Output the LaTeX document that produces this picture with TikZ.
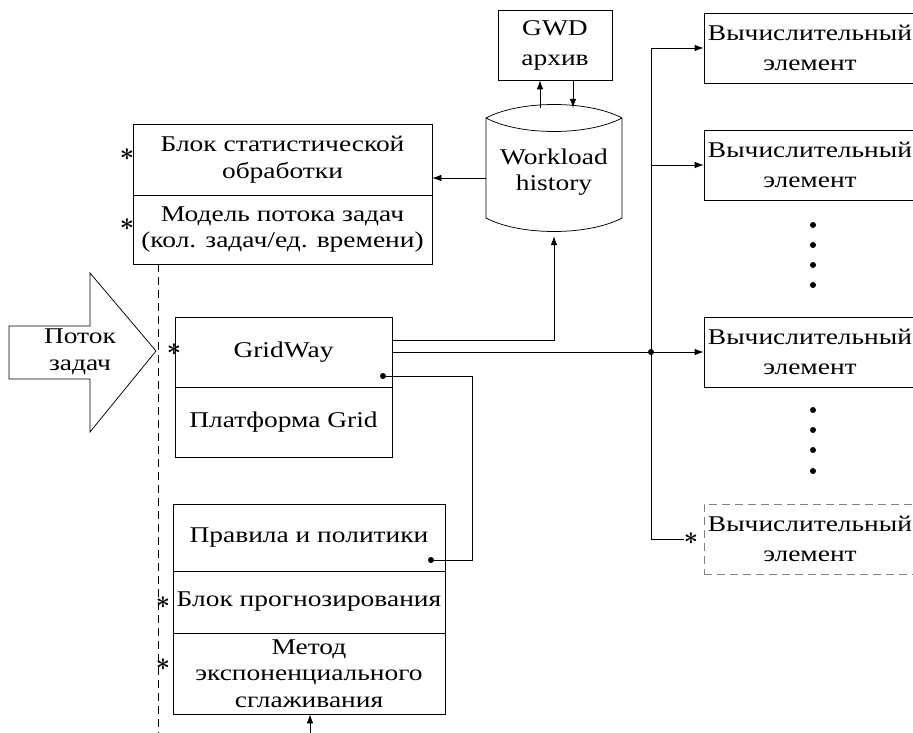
\documentclass[tikz,border=0pt]{standalone}
\usepackage{fontspec}
\setmainfont{Liberation Serif}[FakeStretch=1.22]
\usetikzlibrary{arrows.meta}
\begin{document}
\begin{tikzpicture}
[x=1pt, y=-1pt,
 lineDecorate/.style={-{Latex[length=9pt,width=6.5pt]},line width=0.75pt},
 boxDecorate/.style={shape=rectangle,draw,line width=0.75pt,inner sep=0pt,align=center,font=\fontsize{22.5}{26.5}\selectfont},
 wideDecorate/.style={boxDecorate,font=\fontsize{22.5}{30}\selectfont},
 starDecorate/.style={inner sep=0pt,font=\fontsize{32}{32}\selectfont\boldmath},
 dotDecorate/.style={shape=circle,fill=black,inner sep=0pt,minimum size=6pt},
 dashDecorate/.style={line width=0.75pt,dash pattern=on 8pt off 5pt}]

\useasboundingbox (0,0) rectangle (913,733);
\clip (0,0) rectangle (913,733);

 % left column
 \node (S1) at (282.5,159.5) [boxDecorate, minimum width=299pt, minimum height=71pt] {Блок статистической\\обработки};
 \node (S2) at (282.5,229.5) [boxDecorate, minimum width=299pt, minimum height=69pt] {Модель потока задач\\(кол. задач/ед. времени)};
 \node (GW) at (283.5,352) [boxDecorate, minimum width=217pt, minimum height=70pt] {GridWay};
 \node (P) at (283.5,422) [boxDecorate, minimum width=217pt, minimum height=70pt] {Платформа Grid};
 \node (R1) at (309,537.5) [boxDecorate, minimum width=272pt, minimum height=67pt] {Правила и политики};
 \node (R2) at (309,602) [boxDecorate, minimum width=272pt, minimum height=62pt] {Блок прогнозирования};
 \node (R3) at (309,673.5) [boxDecorate, minimum width=272pt, minimum height=81pt] {Метод\\экспоненциального\\сглаживания};

 % archive and history
 \node (G) at (555,45) [wideDecorate, minimum width=114pt, minimum height=70pt] {GWD\\архив};
 \draw[line width=0.75pt] (486,118) .. controls (520,100) and (588,100) .. (622,118)
   -- (622,218) .. controls (588,236) and (520,236) .. (486,218) -- cycle;
 \draw[line width=0.75pt] (486,118) .. controls (520,136) and (588,136) .. (622,118);
 \node (H) at (554,172) [minimum width=136pt, minimum height=128pt, inner sep=0pt, align=center, font=\fontsize{22.5}{26.5}\selectfont] {Workload\\history};

 % computing elements
 \foreach \i/\y in {1/48,2/165,3/352}
 {
          \node (V\i) at (810,\y) [wideDecorate, minimum width=212pt, minimum height=70pt] {Вычислительный\\элемент};
 }
 \node (V4) at (810,539) [wideDecorate, draw=gray, dashDecorate, minimum width=212pt, minimum height=70pt] {Вычислительный\\элемент};
 \foreach \y in {225,245,265,285,410,430,450,471}
 {
          \fill (813,\y) circle (3pt);
 }

 % task flow arrow
 \draw[line width=0.75pt] (9,326) -- (90,326) -- (90,273) -- (156,351) -- (90,432) -- (90,379) -- (9,379) -- cycle;
 \node (flow) at (80,352) [align=center, font=\fontsize{22.5}{26.5}\selectfont] {Поток\\задач};

 % stars
 \node (St1) at (127,155) [starDecorate] {$\ast$};
 \node (St2) at (127,225) [starDecorate] {$\ast$};
 \node (St3) at (174,350) [starDecorate] {$\ast$};
 \node (St4) at (163,603) [starDecorate] {$\ast$};
 \node (St5) at (163,665) [starDecorate] {$\ast$};
 \node (St6) at (691,539) [starDecorate] {$\ast$};

 \coordinate (bus) at (651,352);
 \coordinate (bend) at (472,376);
 \coordinate (dl) at (158,264);
 \coordinate (dlEnd) at (158,733);
 \coordinate (inp) at (310,733);
 \node (d1) at (383,376) [dotDecorate] {};
 \node (d2) at (431,560) [dotDecorate] {};

\draw[dashDecorate] (dl) -- (dlEnd);
\draw[lineDecorate] ([xshift=-15pt]G.south |- H.north) -- ([xshift=-15pt]G.south);
\draw[lineDecorate] ([xshift=18pt]G.south) -- ([xshift=18pt]G.south |- H.north);
\draw[lineDecorate] ([yshift=-6pt]H.west) -- ([yshift=-6pt]H.west -| S1.east);
\draw[lineDecorate] ([yshift=12pt]GW.east) -| (H.south);
\draw[lineDecorate] (GW.east) -- (V3.west);
\fill (bus) circle (3pt);
\draw[lineDecorate] (bus |- V1.west) -- (V1.west);
\draw[lineDecorate] (bus |- V2.west) -- (V2.west);
\draw[line width=0.75pt] (bus |- V1.west) -- (bus |- V4.west) -- (St6.west);
\draw[line width=0.75pt] (d1) -- (bend) |- (d2);
\draw[lineDecorate] (inp) -- (inp |- R3.south);
\end{tikzpicture}
\end{document}
